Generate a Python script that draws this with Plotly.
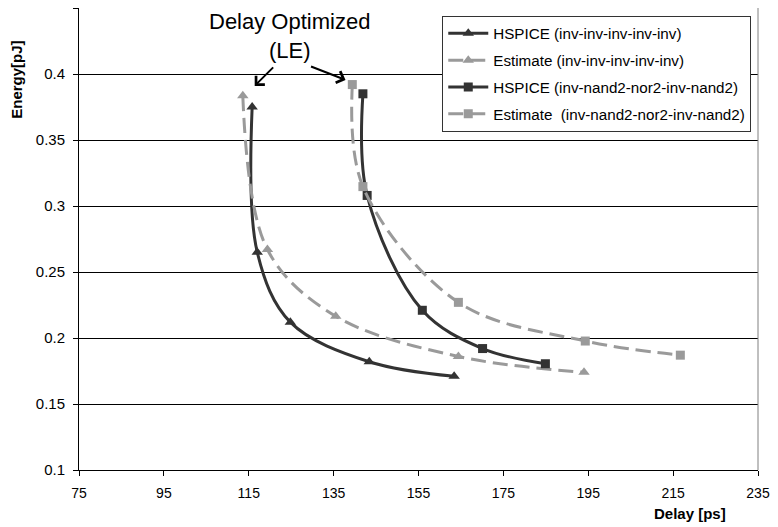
import plotly.graph_objects as go

# Data
hspice_inv_delay = [115.8, 117.0, 124.8, 143.4, 163.4]
hspice_inv_energy = [0.375, 0.265, 0.212, 0.182, 0.171]

est_inv_delay = [113.6, 119.4, 135.5, 164.4, 194.0]
est_inv_energy = [0.3835, 0.267, 0.2165, 0.186, 0.174]

hspice_nand_delay = [141.9, 142.9, 155.9, 170.1, 184.9]
hspice_nand_energy = [0.385, 0.308, 0.221, 0.192, 0.1805]

est_nand_delay = [139.4, 141.9, 164.4, 194.3, 216.7]
est_nand_energy = [0.392, 0.3147, 0.227, 0.1977, 0.187]

x_ticks = [75, 95, 115, 135, 155, 175, 195, 215, 235]
y_ticks = [0.1, 0.15, 0.2, 0.25, 0.3, 0.35, 0.4, 0.45]
y_tick_text = ["0.1", "0.15", "0.2", "0.25", "0.3", "0.35", "0.4", "0.45"]

DARK = "#333333"
GRAY = "#9a9a9a"
FONT = "Liberation Sans, Arial, sans-serif"

fig = go.Figure()

def add(xs, ys, name, color, symbol, dash, msize, group):
    fig.add_trace(go.Scatter(
        x=xs, y=ys, name=name, mode="lines+markers", legendgroup=group,
        line=dict(color=color, width=3, shape="spline", smoothing=1, dash=dash),
        marker=dict(color=color, symbol=symbol, size=msize, line=dict(width=0)),
    ))

add(hspice_inv_delay, hspice_inv_energy, "HSPICE (inv-inv-inv-inv-inv)", DARK, "triangle-up", "solid", 10, "g1")
add(est_inv_delay, est_inv_energy, "Estimate (inv-inv-inv-inv-inv)", GRAY, "triangle-up", "15px,7px", 10, "g2")
add(hspice_nand_delay, hspice_nand_energy, "HSPICE (inv-nand2-nor2-inv-nand2)", DARK, "square", "solid", 9, "g3")
add(est_nand_delay, est_nand_energy, "Estimate  (inv-nand2-nor2-inv-nand2)", GRAY, "square", "15px,7px", 9, "g4")

fig.update_layout(
    width=778, height=527,
    margin=dict(l=79, r=13, t=8, b=57),
    paper_bgcolor="white", plot_bgcolor="white",
    font=dict(family=FONT, size=14, color="black"),
    showlegend=True,
    legend=dict(
        x=0.535, y=0.9827, xanchor="left", yanchor="top",
        bgcolor="white", bordercolor="#333333", borderwidth=1,
        font=dict(family=FONT, size=15.2, color="black"),
        tracegroupgap=4, itemwidth=40,
    ),
    xaxis=dict(
        range=[75, 235], tickmode="array", tickvals=x_ticks,
        ticks="outside", ticklen=5, tickcolor="black",
        showline=True, linecolor="black", linewidth=1,
        showgrid=False, zeroline=False, ticklabelstandoff=5,
        tickfont=dict(family=FONT, size=14),
    ),
    yaxis=dict(
        range=[0.1, 0.45], tickmode="array", tickvals=y_ticks, ticktext=y_tick_text,
        ticks="outside", ticklen=5, tickcolor="black",
        showline=True, linecolor="black", linewidth=1,
        showgrid=True, gridcolor="black", gridwidth=1, zeroline=False,
        ticklabelstandoff=5,
        tickfont=dict(family=FONT, size=15),
    ),
)

# right border of plot area
fig.add_shape(type="line", xref="paper", yref="paper", x0=1, x1=1, y0=0, y1=1,
              line=dict(color="#808080", width=1))

# axis titles
fig.add_annotation(text="<b>Energy[pJ]</b>", xref="paper", yref="paper",
                   x=-0.0926, y=0.845, xanchor="center", yanchor="middle",
                   textangle=-90, showarrow=False,
                   font=dict(family=FONT, size=15, color="black"))
fig.add_annotation(text="<b>Delay [ps]</b>", xref="paper", yref="paper",
                   x=0.9, y=-0.0952, showarrow=False, xanchor="center", yanchor="middle",
                   font=dict(family=FONT, size=15, color="black"))

# callout
fig.add_annotation(text="Delay Optimized<br>(LE)", x=124.7, y=0.4288, showarrow=False,
                   xanchor="center", yanchor="middle",
                   font=dict(family=FONT, size=22, color="black"))
fig.add_annotation(x=116.4, y=0.391, ax=20, ay=-20, text="", showarrow=True,
                   arrowhead=4, arrowsize=1.2, arrowwidth=2, arrowcolor="black")
fig.add_annotation(x=137.8, y=0.3955, ax=-36, ay=-14, text="", showarrow=True,
                   arrowhead=4, arrowsize=1.2, arrowwidth=2, arrowcolor="black")

fig.write_html("out.html", config={"displayModeBar": False},
               post_script="document.body.style.margin='0';")
